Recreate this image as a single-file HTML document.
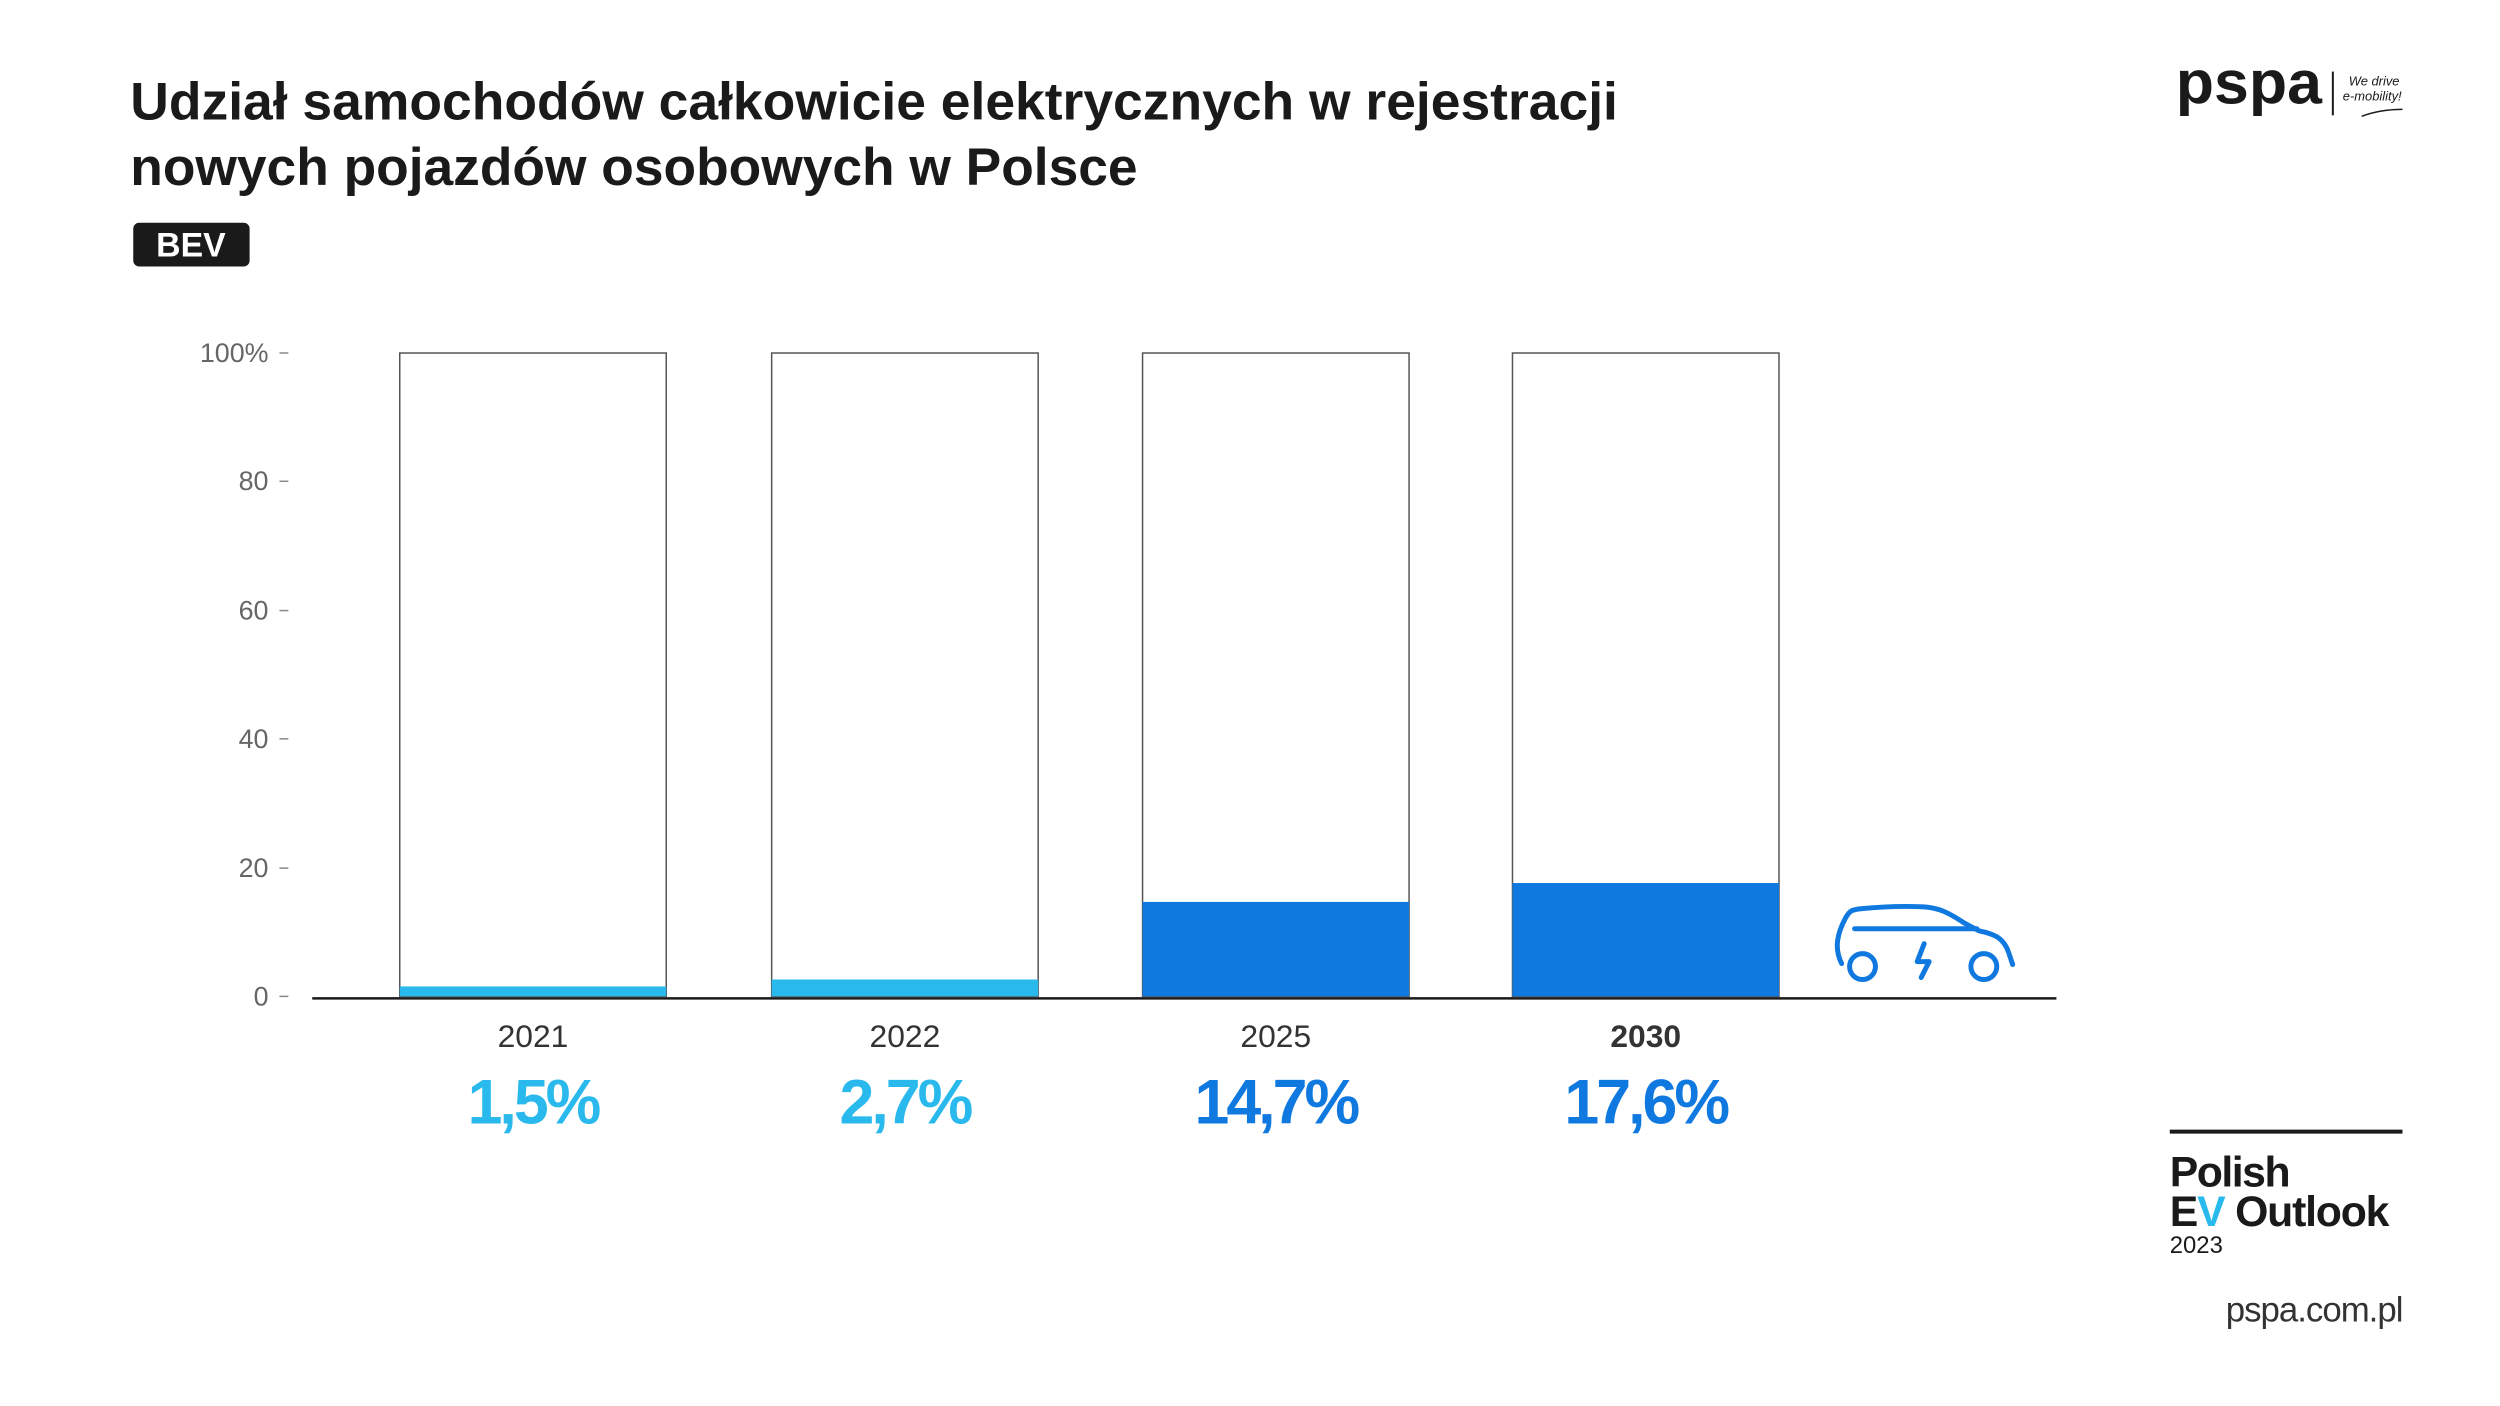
<!DOCTYPE html>
<html><head><meta charset="utf-8"><style>
html,body{margin:0;padding:0;background:#fff;}
svg{display:block;}
text{font-family:"Liberation Sans",sans-serif;}
</style></head><body>
<svg width="2500" height="1406" viewBox="0 0 2500 1406" xmlns="http://www.w3.org/2000/svg">
<rect width="2500" height="1406" fill="#fff"/>
<g transform="scale(0.9944)">
<text x="131" y="120" font-size="53" font-weight="bold" fill="#1a1a1a" textLength="1496" lengthAdjust="spacingAndGlyphs">Udział samochodów całkowicie elektrycznych w rejestracji</text>
<text x="131" y="186" font-size="53" font-weight="bold" fill="#1a1a1a" textLength="1013" lengthAdjust="spacingAndGlyphs">nowych pojazdów osobowych w Polsce</text>
<rect x="134" y="224" width="117" height="44" rx="6" fill="#1a1a1a"/>
<text x="192" y="258" font-size="34" font-weight="bold" fill="#fff" text-anchor="middle">BEV</text>
<g font-size="27" fill="#666" text-anchor="end">
<text x="270" y="364">100%</text>
<text x="270" y="493">80</text>
<text x="270" y="623">60</text>
<text x="270" y="752">40</text>
<text x="270" y="882">20</text>
<text x="270" y="1011">0</text>
</g>
<g stroke="#888" stroke-width="1.5">
<line x1="281" y1="355" x2="290" y2="355"/><line x1="281" y1="484" x2="290" y2="484"/>
<line x1="281" y1="614" x2="290" y2="614"/><line x1="281" y1="743" x2="290" y2="743"/>
<line x1="281" y1="873" x2="290" y2="873"/><line x1="281" y1="1002" x2="290" y2="1002"/>
</g>
<g fill="#fff" stroke="#555" stroke-width="1.5">
<rect x="402" y="355" width="268" height="647"/>
<rect x="776" y="355" width="268" height="647"/>
<rect x="1149" y="355" width="268" height="647"/>
<rect x="1521" y="355" width="268" height="647"/>
</g>
<rect x="402" y="992" width="268" height="10" fill="#29B9EC"/>
<rect x="776" y="985" width="268" height="17" fill="#29B9EC"/>
<rect x="1149" y="907" width="268" height="95" fill="#1079E0"/>
<rect x="1521" y="888" width="268" height="114" fill="#1079E0"/>
<line x1="314" y1="1004" x2="2068" y2="1004" stroke="#1a1a1a" stroke-width="2.5"/>
<g fill="none" stroke="#1079E0" stroke-width="5" stroke-linecap="round" stroke-linejoin="round">
<path d="M1852,969 C1844,953 1848,938 1856,923 C1860,916 1862,915 1870,914 C1890,912 1915,911 1935,912 C1950,913 1960,918 1975,928 L1990,936 C2005,939 2015,943 2020,958 L2024,970"/>
<line x1="1865" y1="934" x2="1988" y2="934"/>
<circle cx="1873" cy="972" r="13"/>
<circle cx="1995" cy="972" r="13"/>
<path d="M1935,949 L1928,967 L1940,967 L1932,983"/>
</g>
<g font-size="32" fill="#333" text-anchor="middle">
<text x="536" y="1053">2021</text>
<text x="910" y="1053">2022</text>
<text x="1283" y="1053">2025</text>
<text x="1655" y="1053" font-weight="bold">2030</text>
</g>
<g font-size="63" font-weight="bold" text-anchor="middle" letter-spacing="-3">
<text x="536" y="1130" fill="#29B9EC">1,5%</text>
<text x="910" y="1130" fill="#29B9EC">2,7%</text>
<text x="1283" y="1130" fill="#1079E0">14,7%</text>
<text x="1655" y="1130" fill="#1079E0">17,6%</text>
</g>
<text x="2188" y="104" font-size="62" font-weight="bold" fill="#1a1a1a" textLength="147" lengthAdjust="spacingAndGlyphs">pspa</text>
<line x1="2346" y1="72" x2="2346" y2="116" stroke="#1a1a1a" stroke-width="2"/>
<text x="2362" y="86" font-size="13" font-style="italic" fill="#1a1a1a">We drive</text>
<text x="2356" y="101" font-size="13" font-style="italic" fill="#1a1a1a">e-mobility!</text>
<path d="M2375,117 Q2393,110 2416,110" stroke="#1a1a1a" stroke-width="1.5" fill="none"/>
<line x1="2182" y1="1138" x2="2416" y2="1138" stroke="#1a1a1a" stroke-width="4"/>
<text x="2182" y="1193" font-size="43" font-weight="bold" fill="#1a1a1a" letter-spacing="-1.5">Polish</text>
<text x="2182" y="1233" font-size="43" font-weight="bold" fill="#1a1a1a" letter-spacing="-1.2">E<tspan fill="#29B9EC">V</tspan> Outlook</text>
<text x="2182" y="1260" font-size="24" fill="#1a1a1a">2023</text>
<text x="2416" y="1329" font-size="35" fill="#333" text-anchor="end" letter-spacing="-1">pspa.com.pl</text>
</g>
</svg>
</body></html>
